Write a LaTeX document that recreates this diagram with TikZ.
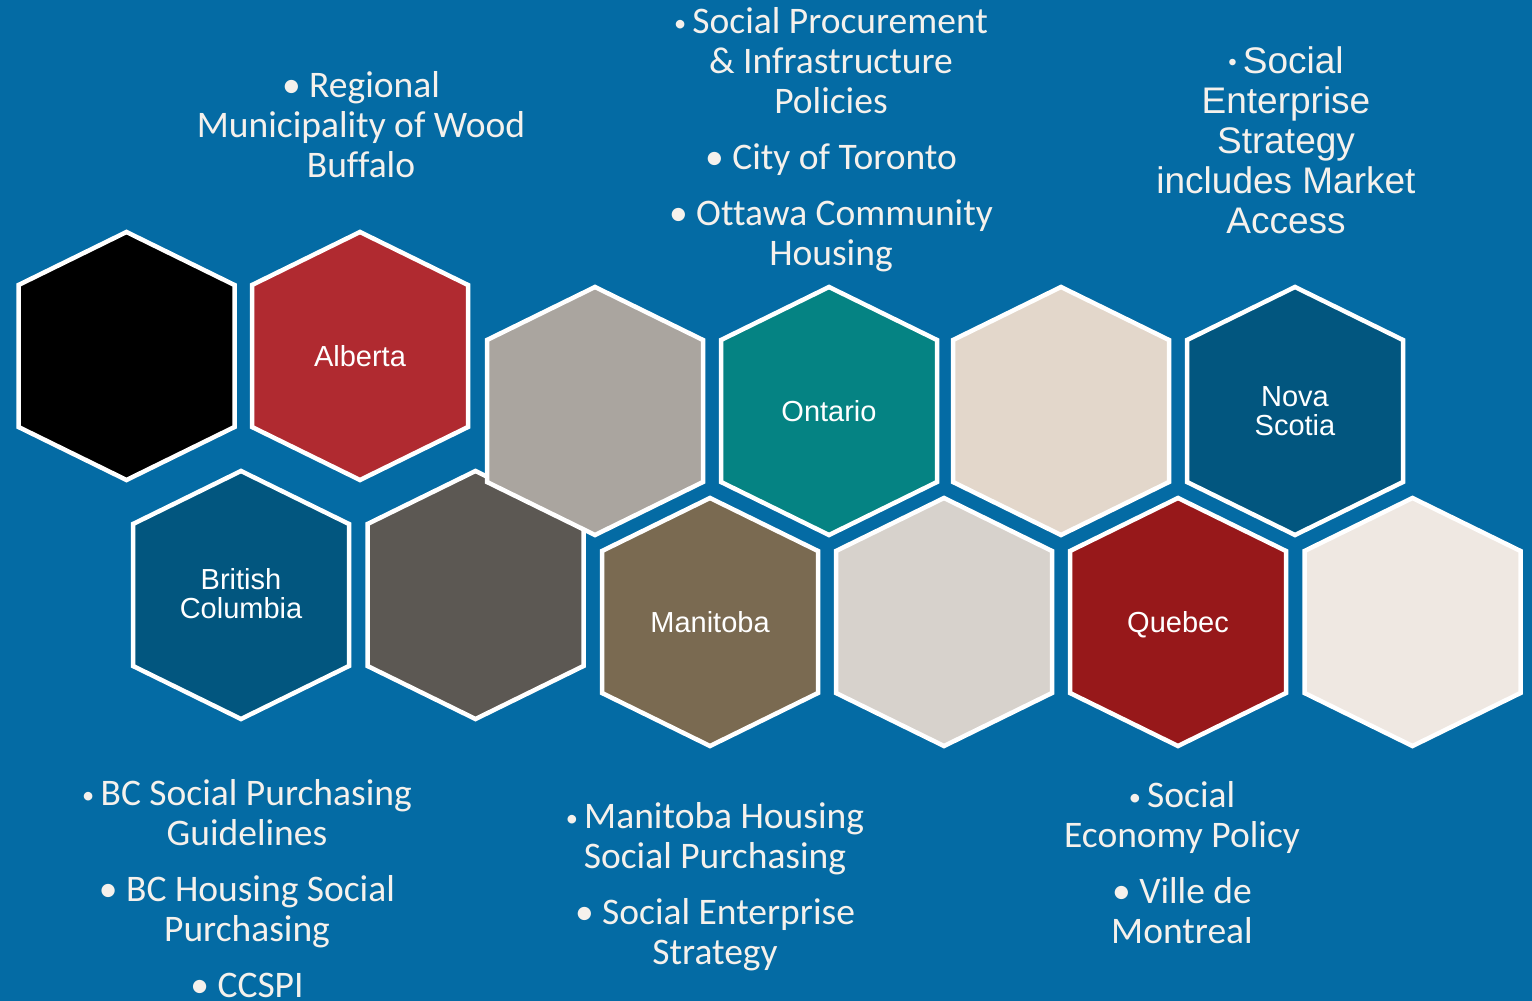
\documentclass[tikz,border=0pt]{standalone}
\usepackage{fontspec}
\usepackage{graphicx}
\setmainfont[Ligatures=NoCommon]{Carlito}
\newfontfamily\arialfont{Liberation Sans}
\usetikzlibrary{calc}
\definecolor{bgblue}{HTML}{046BA4}
\definecolor{hexblack}{HTML}{000000}
\definecolor{hexred}{HTML}{B02A30}
\definecolor{hexgray}{HTML}{AAA59F}
\definecolor{hexteal}{HTML}{058383}
\definecolor{hexbeige}{HTML}{E3D7CB}
\definecolor{hexnavy}{HTML}{02567F}
\definecolor{hexdark}{HTML}{5C5853}
\definecolor{hexbrown}{HTML}{7A6A51}
\definecolor{hexlight}{HTML}{D7D2CC}
\definecolor{hexcrimson}{HTML}{97181A}
\definecolor{hexoff}{HTML}{EFE8E2}
\definecolor{txt}{HTML}{F5F1EC}
\newcommand\sbul{\raisebox{0.12ex}{\scalebox{0.65}{•}}\,}
\newcommand\bbul{•\ }
\newcommand\hexcell[3]{%
  \coordinate (#1) at (#2);
  \draw[hexa, fill=#3] ($(#1)+(0,-124)$) -- ++(108,53) -- ++(0,142) -- ++(-108,53) -- ++(-108,-53) -- ++(0,-142) -- cycle;}
\tikzset{
  hexa/.style={draw=white, line width=4.5pt, line join=miter},
  hexlabel/.style={text=white, font=\arialfont\fontsize{29}{30}\selectfont, align=center, inner sep=0pt},
  bullets/.style={text=txt, font=\fontsize{37.5}{40}\selectfont, align=center, inner sep=0pt},
  bulletsarial/.style={text=txt, font=\arialfont\fontsize{37}{40}\selectfont, align=center, inner sep=0pt},
}
\begin{document}
\begin{tikzpicture}[x=1pt,y=-1pt]
\fill[bgblue] (0,0) rectangle (1532,1001);
\useasboundingbox (0,0) rectangle (1532,1001);
% row 2 (left part first so row 1 overlaps)
\hexcell{bc}{241,595}{hexnavy}
\hexcell{dg}{475.5,595}{hexdark}
% row 1
\hexcell{bk}{126.5,356}{hexblack}
\hexcell{ab}{360,356}{hexred}
\hexcell{gy}{595,411}{hexgray}
\hexcell{on}{829,411}{hexteal}
\hexcell{be}{1061,411}{hexbeige}
\hexcell{ns}{1295,411}{hexnavy}
% row 2 right part
\hexcell{mb}{710,622}{hexbrown}
\hexcell{lg}{944,622}{hexlight}
\hexcell{qc}{1178,622}{hexcrimson}
\hexcell{ow}{1412.5,622}{hexoff}
% hex labels
\node[hexlabel] (labab) at (ab) {Alberta};
\node[hexlabel] (labon) at (on) {Ontario};
\node[hexlabel] (labns) at (ns) {Nova\\[-1pt]Scotia};
\node[hexlabel] (labbc) at ($(bc)+(0,-1)$) {British\\[-1pt]Columbia};
\node[hexlabel] (labmb) at (mb) {Manitoba};
\node[hexlabel] (labqc) at ($(qc)+(0,3)$) {Quebec};
% bullet texts
\node[bullets] (tab) at (361,125) {\bbul Regional\\Municipality of Wood\\Buffalo};
\node[bullets] (ton) at (831,140) {\sbul Social Procurement\\\& Infrastructure\\Policies\\[16pt]\bbul City of Toronto\\[16pt]\bbul Ottawa Community\\Housing};
\node[bulletsarial] (tns) at (1286,140) {\sbul Social\\Enterprise\\Strategy\\includes Market\\Access};
\node[bullets] (tbc) at (247,889) {\sbul BC Social Purchasing\\Guidelines\\[16pt]\bbul BC Housing Social\\Purchasing\\[16pt]\bbul CCSPI};
\node[bullets] (tmb) at (715,887) {\sbul Manitoba Housing\\Social Purchasing\\[16pt]\bbul Social Enterprise\\Strategy};
\node[bullets] (tqc) at (1182,863) {\sbul Social\\Economy Policy\\[16pt]\bbul Ville de\\Montreal};
\end{tikzpicture}
\end{document}
